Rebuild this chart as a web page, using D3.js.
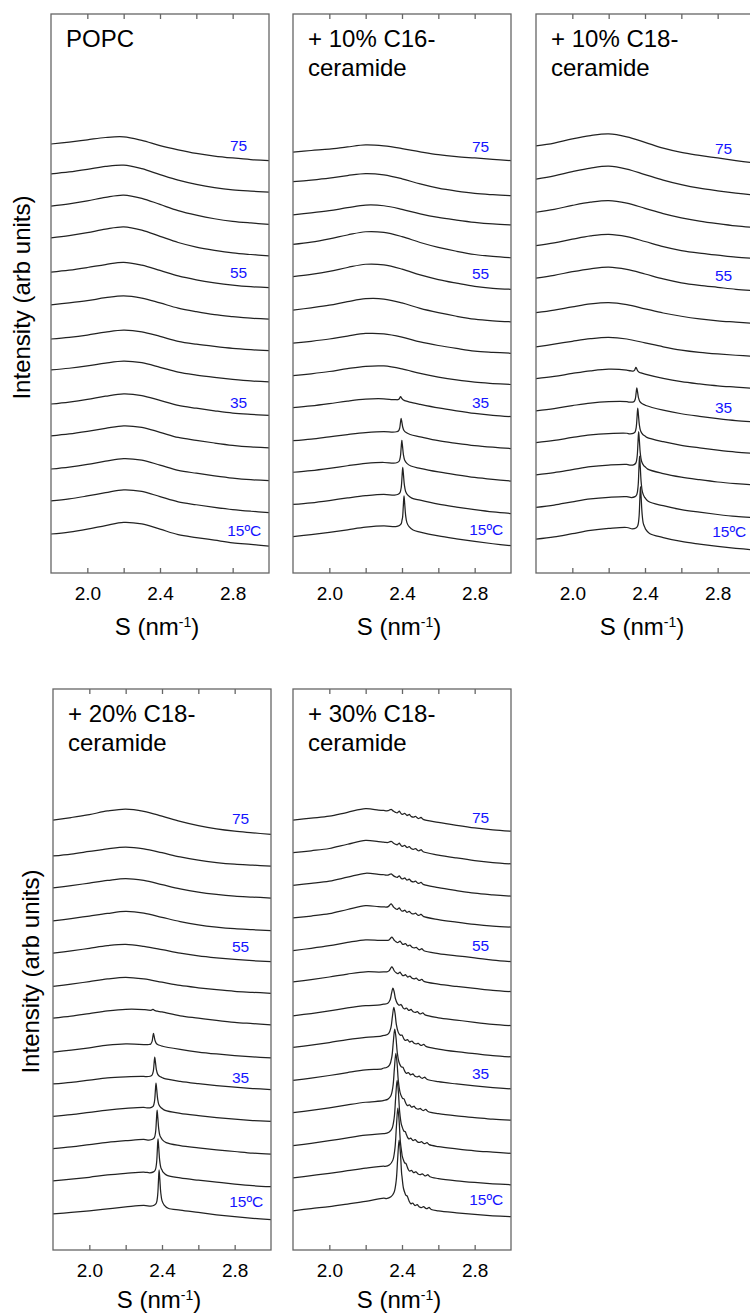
<!DOCTYPE html>
<html>
<head>
<meta charset="utf-8">
<script src="https://cdnjs.cloudflare.com/ajax/libs/d3/7.8.5/d3.min.js"></script>
<style>
  body { margin: 0; background: #fff; }
  svg { display: block; font-family: "Liberation Sans", Arial, sans-serif; }
</style>
</head>
<body>
<div id="chart"></div>
<script>
// traces, bottom one first
const temps = [15, 20, 25, 30, 35, 40, 45, 50, 55, 60, 65, 70, 75];
const sGrid = [1.8, 1.9, 2.0, 2.1, 2.2, 2.3, 2.4, 2.5, 2.6, 2.7, 2.8, 2.9, 3.0];
const sTicks = [2.0, 2.2, 2.4, 2.6, 2.8];
const sTickLabels = [2.0, 2.4, 2.8];
const tempLabels = ["15ºC", "35", "55", "75"];
const tempLabelIdx = [0, 4, 8, 12];
const tempLabelS = [2.77, 2.785, 2.785, 2.785];

// peak shapes: [offset in S, fraction of peak height]
const narrowPeak = [[-0.045, 0], [-0.025, 0.04], [-0.015, 0.1], [-0.008, 0.3], [-0.004, 0.65], [0, 1],
                    [0.004, 0.75], [0.009, 0.4], [0.016, 0.18], [0.028, 0.07], [0.05, 0]];
const widePeak = [[-0.07, 0], [-0.045, 0.04], [-0.028, 0.12], [-0.016, 0.32], [-0.008, 0.68], [0, 1],
                  [0.007, 0.8], [0.014, 0.45], [0.024, 0.22], [0.038, 0.1], [0.065, 0]];
const bumpShape = [[-0.012, 0], [-0.005, 0.6], [0, 1], [0.005, 0.6], [0.012, 0]];
// small side bumps of the 30% sample, offset from main peak, height
const c30Bumps = [[0.045, 0.07], [0.075, 0.05], [0.10, 0.05], [0.135, 0.04], [0.165, 0.05]];

// ---- POPC
const popcLevels = [0.20, 1.22, 2.20, 3.22, 4.20, 5.25, 6.20, 7.25, 8.26, 9.31, 10.29, 11.28, 12.20];
const popcBroad = [
  [0, .06, .15, .26, .36, .31, .15, -.02, -.11, -.19, -.27, -.32, -.37],
  [0, .06, .15, .25, .34, .29, .13, -.03, -.12, -.20, -.27, -.32, -.36],
  [0, .06, .14, .24, .32, .27, .12, -.04, -.13, -.21, -.28, -.33, -.36],
  [0, .06, .14, .23, .31, .26, .11, -.05, -.14, -.22, -.29, -.34, -.37],
  [0, .06, .14, .24, .31, .26, .11, -.04, -.13, -.21, -.28, -.32, -.35],
  [0, .05, .12, .21, .27, .22, .08, -.07, -.16, -.23, -.29, -.34, -.37],
  [0, .05, .12, .21, .27, .22, .08, -.07, -.16, -.23, -.29, -.33, -.36],
  [0, .06, .13, .22, .28, .21, .06, -.10, -.21, -.30, -.36, -.41, -.44],
  [0, .06, .14, .23, .30, .21, .05, -.12, -.24, -.33, -.40, -.45, -.48],
  [0, .07, .16, .27, .34, .24, .05, -.14, -.28, -.38, -.46, -.51, -.55],
  [0, .07, .16, .27, .34, .24, .05, -.14, -.28, -.39, -.47, -.52, -.56],
  [0, .06, .14, .23, .27, .16, -.02, -.19, -.32, -.42, -.49, -.53, -.56],
  [0, .06, .13, .20, .22, .11, -.05, -.18, -.29, -.37, -.43, -.48, -.51]
];
const popcPeakS = [null, null, null, null, null, null, null, null, null, null, null, null, null];
const popcPeakTop = [null, null, null, null, null, null, null, null, null, null, null, null, null];
const popcLabelLevels = [0.32, 4.24, 8.24, 12.17];

// ---- + 10% C16-ceramide
const c16Levels = [0.12, 1.11, 2.10, 3.07, 4.09, 5.07, 6.07, 7.09, 8.12, 9.11, 10.02, 11.04, 11.95];
const c16Broad = [
  [0, .06, .13, .21, .29, .33, .30, .14, .02, -.07, -.15, -.22, -.28],
  [0, .05, .12, .20, .27, .31, .27, .13, .01, -.08, -.16, -.23, -.28],
  [0, .05, .12, .20, .27, .30, .26, .12, .01, -.08, -.16, -.22, -.27],
  [0, .05, .12, .19, .25, .28, .25, .12, .00, -.08, -.15, -.20, -.24],
  [0, .05, .12, .20, .26, .27, .22, .10, -.01, -.10, -.18, -.24, -.28],
  [0, .06, .13, .22, .29, .30, .21, .07, -.04, -.13, -.20, -.24, -.27],
  [0, .06, .13, .22, .30, .29, .19, .04, -.07, -.16, -.24, -.28, -.31],
  [0, .07, .15, .26, .35, .34, .22, .05, -.08, -.19, -.28, -.33, -.36],
  [0, .07, .16, .28, .38, .36, .23, .05, -.09, -.20, -.30, -.36, -.39],
  [0, .07, .17, .29, .39, .37, .24, .06, -.09, -.21, -.31, -.37, -.41],
  [0, .06, .13, .22, .30, .28, .17, .03, -.08, -.16, -.23, -.28, -.31],
  [0, .05, .11, .19, .25, .21, .09, -.07, -.20, -.29, -.36, -.40, -.43],
  [0, .05, .09, .16, .22, .19, .11, .01, -.08, -.14, -.18, -.22, -.26]
];
const c16PeakS = [2.411, 2.404, 2.399, 2.395, 2.392, null, null, null, null, null, null, null, null];
const c16PeakTop = [1.25, 1.14, 0.98, 0.69, 0.34, null, null, null, null, null, null, null, null];
const c16LabelLevels = [0.34, 4.24, 8.22, 12.12];

// ---- + 10% C18-ceramide
const c18aLevels = [0.04, 1.02, 2.02, 3.01, 3.99, 4.98, 5.96, 7.01, 8.07, 9.07, 10.10, 11.12, 12.14];
const c18aBroad = [
  [0, .07, .17, .27, .33, .36, .22, .05, -.07, -.15, -.22, -.28, -.33],
  [0, .07, .17, .26, .31, .33, .21, .05, -.07, -.15, -.22, -.28, -.32],
  [0, .07, .16, .25, .30, .32, .20, .04, -.07, -.15, -.22, -.27, -.31],
  [0, .07, .16, .24, .28, .29, .18, .03, -.08, -.16, -.23, -.29, -.33],
  [0, .07, .16, .24, .28, .28, .17, .02, -.09, -.17, -.24, -.30, -.34],
  [0, .07, .16, .24, .29, .26, .14, .01, -.09, -.16, -.22, -.26, -.30],
  [0, .08, .17, .25, .29, .24, .12, .00, -.10, -.17, -.22, -.26, -.29],
  [0, .08, .18, .27, .31, .25, .12, -.01, -.11, -.19, -.25, -.29, -.33],
  [0, .09, .20, .29, .34, .27, .13, -.02, -.14, -.22, -.28, -.34, -.38],
  [0, .09, .20, .30, .35, .28, .13, -.03, -.15, -.23, -.29, -.35, -.39],
  [0, .09, .21, .31, .36, .28, .12, -.04, -.17, -.27, -.35, -.42, -.47],
  [0, .10, .23, .34, .40, .31, .14, -.03, -.17, -.28, -.36, -.43, -.49],
  [0, .09, .22, .32, .37, .28, .11, -.07, -.20, -.29, -.37, -.45, -.52]
];
const c18aPeakS = [2.375, 2.37, 2.365, 2.36, 2.355, 2.35, null, null, null, null, null, null, null];
const c18aPeakTop = [1.62, 1.58, 1.33, 1.06, 0.71, 0.35, null, null, null, null, null, null, null];
const c18aLabelLevels = [0.27, 4.09, 8.17, 12.07];

// ---- + 20% C18-ceramide
const c18bLevels = [0.11, 1.12, 2.11, 3.10, 4.09, 5.07, 6.11, 7.08, 8.10, 9.09, 10.10, 11.08, 12.18];
const c18bBroad = [
  [0, .04, .09, .15, .21, .26, .20, .11, .04, -.03, -.09, -.14, -.18],
  [0, .05, .11, .18, .23, .27, .20, .09, .02, -.04, -.10, -.15, -.18],
  [0, .05, .12, .19, .24, .28, .21, .09, .02, -.04, -.09, -.14, -.17],
  [0, .05, .12, .19, .24, .27, .20, .09, .02, -.04, -.09, -.13, -.16],
  [0, .05, .12, .19, .22, .23, .18, .08, .01, -.05, -.10, -.14, -.17],
  [0, .06, .13, .21, .25, .23, .18, .08, .00, -.06, -.11, -.15, -.18],
  [0, .06, .14, .22, .27, .26, .19, .07, .00, -.07, -.13, -.17, -.21],
  [0, .07, .15, .23, .28, .23, .13, .03, -.04, -.10, -.15, -.18, -.21],
  [0, .07, .15, .23, .27, .21, .11, .00, -.08, -.14, -.19, -.23, -.26],
  [0, .07, .15, .23, .29, .24, .11, -.02, -.12, -.19, -.24, -.27, -.30],
  [0, .07, .15, .23, .29, .23, .10, -.03, -.13, -.20, -.25, -.28, -.31],
  [0, .06, .14, .22, .27, .22, .10, -.03, -.13, -.20, -.25, -.28, -.31],
  [0, .08, .17, .28, .34, .27, .12, -.04, -.17, -.27, -.34, -.39, -.44]
];
const c18bPeakS = [2.384, 2.378, 2.373, 2.367, 2.36, 2.353, 2.35, null, null, null, null, null, null];
const c18bPeakTop = [1.35, 1.29, 1.18, 1.02, 0.82, 0.57, 0.27, null, null, null, null, null, null];
const c18bLabelLevels = [0.49, 4.30, 8.31, 12.23];

// ---- + 30% C18-ceramide
const c18cLevels = [0.20, 1.21, 2.20, 3.21, 4.20, 5.21, 6.18, 7.22, 8.18, 9.18, 10.18, 11.18, 12.18];
const c18cBroad = [
  [0, .07, .13, .21, .29, .39, .30, .11, .00, -.06, -.11, -.15, -.18],
  [0, .07, .14, .22, .30, .36, .27, .10, -.02, -.09, -.14, -.18, -.21],
  [0, .07, .15, .24, .32, .37, .26, .09, -.03, -.10, -.16, -.20, -.24],
  [0, .07, .15, .24, .32, .37, .26, .09, -.03, -.10, -.15, -.20, -.23],
  [0, .07, .15, .24, .32, .36, .25, .08, -.04, -.11, -.17, -.22, -.26],
  [0, .07, .15, .24, .31, .35, .24, .07, -.05, -.13, -.19, -.25, -.29],
  [0, .07, .15, .24, .31, .34, .23, .06, -.06, -.13, -.20, -.26, -.30],
  [0, .07, .15, .24, .31, .30, .20, .04, -.07, -.14, -.20, -.26, -.30],
  [0, .07, .15, .25, .33, .31, .20, .02, -.09, -.16, -.22, -.29, -.34],
  [0, .06, .13, .26, .38, .33, .21, .07, -.05, -.13, -.20, -.25, -.28],
  [0, .06, .13, .25, .37, .32, .20, .05, -.07, -.16, -.24, -.29, -.33],
  [0, .06, .13, .26, .38, .32, .20, .05, -.07, -.16, -.24, -.30, -.34],
  [0, .06, .12, .24, .35, .29, .18, .04, -.07, -.16, -.24, -.30, -.34]
];
const c18cPeakS = [2.384, 2.377, 2.373, 2.366, 2.36, 2.355, 2.35, 2.344, 2.344, 2.34, 2.34, 2.34, 2.34];
const c18cPeakTop = [2.17, 2.14, 2.00, 1.82, 1.57, 1.23, 0.85, 0.46, 0.41, 0.43, 0.35, 0.35, 0.33];
const c18cLabelLevels = [0.56, 4.41, 8.33, 12.26];

const panels = [
  { title: ["POPC"], levels: popcLevels, broad: popcBroad, peakS: popcPeakS, peakTop: popcPeakTop,
    shape: narrowPeak, bumps: null, labelLevels: popcLabelLevels },
  { title: ["+ 10% C16-", "ceramide"], levels: c16Levels, broad: c16Broad, peakS: c16PeakS, peakTop: c16PeakTop,
    shape: narrowPeak, bumps: null, labelLevels: c16LabelLevels },
  { title: ["+ 10% C18-", "ceramide"], levels: c18aLevels, broad: c18aBroad, peakS: c18aPeakS, peakTop: c18aPeakTop,
    shape: narrowPeak, bumps: null, labelLevels: c18aLabelLevels },
  { title: ["+ 20% C18-", "ceramide"], levels: c18bLevels, broad: c18bBroad, peakS: c18bPeakS, peakTop: c18bPeakTop,
    shape: narrowPeak, bumps: null, labelLevels: c18bLabelLevels },
  { title: ["+ 30% C18-", "ceramide"], levels: c18cLevels, broad: c18cBroad, peakS: c18cPeakS, peakTop: c18cPeakTop,
    shape: widePeak, bumps: c30Bumps, labelLevels: c18cLabelLevels }
];

// page layout
const W = 750, H = 1313, panelW = 218;
const boxes = [
  { left: 51, top: 14, bottom: 573 },
  { left: 293, top: 14, bottom: 573 },
  { left: 536, top: 14, bottom: 573 },
  { left: 53, top: 689, bottom: 1250 },
  { left: 293, top: 689, bottom: 1250 }
];
const yTitles = [{ x: 30, y: 297.5 }, { x: 38.5, y: 971.5 }];
const xTitleGap = [62, 62, 62, 58, 58];

const svg = d3.select("#chart").append("svg")
  .attr("width", W)
  .attr("height", H);

const frameColor = "#666";

const scaleFromPairs = (pairs) => d3.scaleLinear()
  .domain(pairs.map(d => d[0]))
  .range(pairs.map(d => d[1]))
  .clamp(true);

// builds the points of one trace: broad profile + sharp peak (+ side bumps)
const tracePoints = (p, i) => {
  let base = d3.scaleLinear().domain(sGrid).range(p.broad[i]);
  let peak = scaleFromPairs(p.shape);
  let bump = scaleFromPairs(bumpShape);
  let pos = p.peakS[i];
  let xs = sGrid.slice();
  let h = 0;
  if (pos !== null) {
    h = p.peakTop[i] - base(pos);
    p.shape.forEach(d => xs.push(pos + d[0]));
    if (p.bumps) {
      p.bumps.forEach(b => bumpShape.forEach(d => xs.push(pos + b[0] + d[0])));
    }
  }
  xs = Array.from(new Set(xs.map(x => Math.round(x * 10000) / 10000)))
    .filter(x => x >= 1.8 && x <= 3.0)
    .sort((a, b) => a - b);
  return xs.map(s => {
    let v = p.levels[i] + base(s);
    if (pos !== null) {
      v += h * peak(s - pos);
      if (p.bumps) p.bumps.forEach(b => { v += b[1] * bump(s - pos - b[0]); });
    }
    return [s, v];
  });
};

panels.forEach((p, k) => {
  let box = boxes[k];
  let x = d3.scaleLinear().domain([1.8, 3.0]).range([box.left, box.left + panelW]);
  let y = d3.scaleLinear().domain([-1, 16.2]).range([box.bottom, box.top]);
  let g = svg.append("g");

  // traces
  let line = d3.line()
    .x(d => x(d[0]))
    .y(d => y(d[1]))
    .curve(d3.curveCatmullRom.alpha(0.5));

  temps.forEach((t, i) => {
    g.append("path")
      .datum(tracePoints(p, i))
      .attr("fill", "none")
      .attr("stroke", "#222")
      .attr("stroke-width", 1.25)
      .attr("d", line);
  });

  // temperature labels
  tempLabels.forEach((lab, j) => {
    g.append("text")
      .attr("x", x(tempLabelS[j]))
      .attr("y", y(p.labelLevels[j]))
      .attr("dy", "0.36em")
      .attr("fill", "#1414ff")
      .attr("font-size", 15.5)
      .text(lab);
  });

  // frame
  g.append("rect")
    .attr("x", box.left)
    .attr("y", box.top)
    .attr("width", panelW)
    .attr("height", box.bottom - box.top)
    .attr("fill", "none")
    .attr("stroke", frameColor)
    .attr("stroke-width", 1.3);

  // bottom axis, ticks pointing in
  let bottomAxis = g.append("g")
    .attr("transform", `translate(0,${box.bottom})`)
    .call(d3.axisBottom(x)
      .tickValues(sTicks)
      .tickSize(-5)
      .tickPadding(13.5)
      .tickFormat(d => sTickLabels.some(v => Math.abs(v - d) < 1e-9) ? d3.format(".1f")(d) : ""));
  bottomAxis.select(".domain").remove();
  bottomAxis.selectAll("line").attr("stroke", frameColor).attr("stroke-width", 1.3);
  bottomAxis.selectAll("text")
    .attr("fill", "#000")
    .attr("font-size", 19)
    .attr("font-family", "Liberation Sans, Arial, sans-serif");

  // top axis, ticks only
  let topAxis = g.append("g")
    .attr("transform", `translate(0,${box.top})`)
    .call(d3.axisTop(x).tickValues(sTicks).tickSize(-5).tickFormat(""));
  topAxis.select(".domain").remove();
  topAxis.selectAll("line").attr("stroke", frameColor).attr("stroke-width", 1.3);

  // panel title
  p.title.forEach((line, j) => {
    g.append("text")
      .attr("x", box.left + 15)
      .attr("y", box.top + 33 + j * 29)
      .attr("font-size", 24)
      .attr("fill", "#000")
      .text(line);
  });

  // x title with superscript
  let xt = g.append("text")
    .attr("x", box.left + panelW / 2 - 3)
    .attr("y", box.bottom + xTitleGap[k])
    .attr("text-anchor", "middle")
    .attr("font-size", 24)
    .attr("fill", "#000");
  xt.append("tspan").text("S (nm");
  xt.append("tspan").attr("font-size", 14).attr("dy", -8).text("-1");
  xt.append("tspan").attr("dy", 8).text(")");
});

// y titles, one per row
yTitles.forEach(t => {
  svg.append("text")
    .attr("transform", `translate(${t.x},${t.y}) rotate(-90)`)
    .attr("text-anchor", "middle")
    .attr("font-size", 24)
    .attr("fill", "#000")
    .text("Intensity (arb units)");
});
</script>
</body>
</html>
